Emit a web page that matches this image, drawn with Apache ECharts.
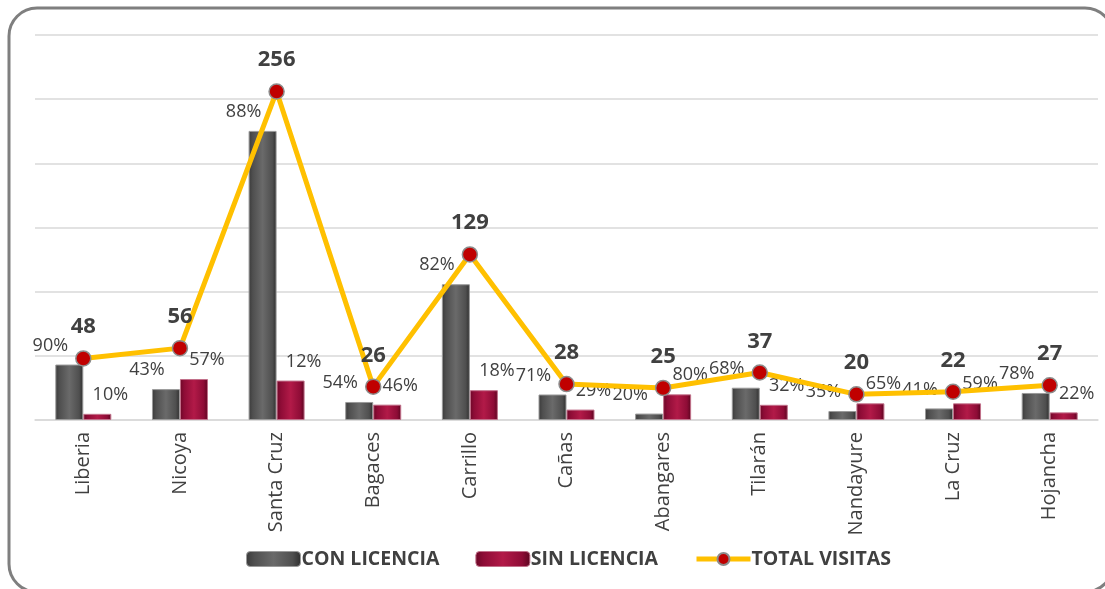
<!DOCTYPE html>
<html>
<head>
<meta charset="utf-8">
<style>
  html, body { margin: 0; padding: 0; background: #ffffff; }
  #chart { width: 1105px; height: 589px; }
</style>
<script src="https://cdn.jsdelivr.net/npm/echarts@6/dist/echarts.min.js"></script>
</head>
<body>
<div id="chart"></div>
<script>
// Cantones visitados
const cantones = ['Liberia', 'Nicoya', 'Santa Cruz', 'Bagaces', 'Carrillo', 'Cañas',
                  'Abangares', 'Tilarán', 'Nandayure', 'La Cruz', 'Hojancha'];
// Total de visitas por cantón
const totalVisitas = [48, 56, 256, 26, 129, 28, 25, 37, 20, 22, 27];
// Porcentaje de establecimientos con y sin licencia
const pctConLicencia = [90, 43, 88, 54, 82, 71, 20, 68, 35, 41, 78];
const pctSinLicencia = [10, 57, 12, 46, 18, 29, 80, 32, 65, 59, 22];

// Visitas con / sin licencia derived from the total and its percentage
const conLicencia = totalVisitas.map((t, i) => t * pctConLicencia[i] / 100);
const sinLicencia = totalVisitas.map((t, i) => t * pctSinLicencia[i] / 100);

const FONT = "'Open Sans', 'Noto Sans', sans-serif";
const TEXT = '#404040';

const grayFill = {
  type: 'linear', x: 0, y: 0, x2: 1, y2: 0,
  colorStops: [
    { offset: 0, color: '#3a3a3a' },
    { offset: 0.15, color: '#4f4f4f' },
    { offset: 0.5, color: '#6a6a6a' },
    { offset: 0.85, color: '#4f4f4f' },
    { offset: 1, color: '#2e2e2e' }
  ]
};
const redFill = {
  type: 'linear', x: 0, y: 0, x2: 1, y2: 0,
  colorStops: [
    { offset: 0, color: '#6a0726' },
    { offset: 0.15, color: '#8e0c36' },
    { offset: 0.5, color: '#b21a48' },
    { offset: 0.85, color: '#8e0c36' },
    { offset: 1, color: '#5a051f' }
  ]
};

const chart = echarts.init(document.getElementById('chart'), null, { renderer: 'canvas' });

chart.setOption({
  backgroundColor: '#ffffff',
  animation: false,
  textStyle: { fontFamily: FONT },
  graphic: [{
    type: 'rect',
    silent: true,
    z: -10,
    shape: { x: 9, y: 8, width: 1104, height: 584, r: 28 },
    style: { fill: 'none', stroke: '#7f7f7f', lineWidth: 3 }
  }],
  grid: { left: 35, right: 7, top: 35, bottom: 169 },
  legend: {
    bottom: 15,
    left: 241,
    itemWidth: 54,
    itemHeight: 15,
    itemGap: 36,
    textStyle: { fontFamily: FONT, fontSize: 19.5, fontWeight: 'bold', color: TEXT, padding: [0, 0, 0, -4] },
    data: [
      { name: 'CON LICENCIA', itemStyle: { color: grayFill, borderColor: '#9a9a9a', borderWidth: 1 } },
      { name: 'SIN LICENCIA', itemStyle: { color: redFill, borderColor: '#c2708a', borderWidth: 1 } },
      { name: 'TOTAL VISITAS', lineStyle: { color: '#ffc000', width: 5 } }
    ]
  },
  xAxis: {
    type: 'category',
    data: cantones,
    boundaryGap: true,
    axisTick: { show: false },
    axisLine: { lineStyle: { color: '#d9d9d9', width: 1.5 } },
    axisLabel: { rotate: 90, fontSize: 20, color: TEXT, margin: 12, fontFamily: FONT }
  },
  yAxis: {
    type: 'value',
    min: 0,
    max: 300,
    interval: 50,
    axisLabel: { show: false },
    axisLine: { show: false },
    axisTick: { show: false },
    splitLine: { lineStyle: { color: '#d9d9d9', width: 1.5 } }
  },
  series: [
    {
      name: 'CON LICENCIA',
      type: 'bar',
      data: conLicencia,
      barWidth: 28,
      barGap: '0%',
      itemStyle: { color: grayFill, borderColor: '#9a9a9a', borderWidth: 1 },
      label: {
        show: true,
        position: 'top',
        offset: [-19, -5],
        fontSize: 18,
        color: TEXT,
        fontFamily: FONT,
        formatter: p => pctConLicencia[p.dataIndex] + '%'
      },
      z: 2
    },
    {
      name: 'SIN LICENCIA',
      type: 'bar',
      data: sinLicencia,
      barWidth: 28,
      itemStyle: { color: redFill, borderColor: '#c2708a', borderWidth: 1 },
      label: {
        show: true,
        position: 'top',
        offset: [13, -5],
        fontSize: 18,
        color: TEXT,
        fontFamily: FONT,
        formatter: p => pctSinLicencia[p.dataIndex] + '%'
      },
      z: 2
    },
    {
      name: 'TOTAL VISITAS',
      type: 'line',
      data: totalVisitas,
      symbol: 'circle',
      symbolSize: 15,
      lineStyle: { color: '#ffc000', width: 5 },
      itemStyle: { color: '#c00000', borderColor: '#8c8c8c', borderWidth: 1.5 },
      label: {
        show: true,
        position: 'top',
        distance: 12,
        fontSize: 22,
        fontWeight: 'bold',
        color: TEXT,
        fontFamily: FONT
      },
      z: 5
    }
  ]
});
</script>
</body>
</html>
